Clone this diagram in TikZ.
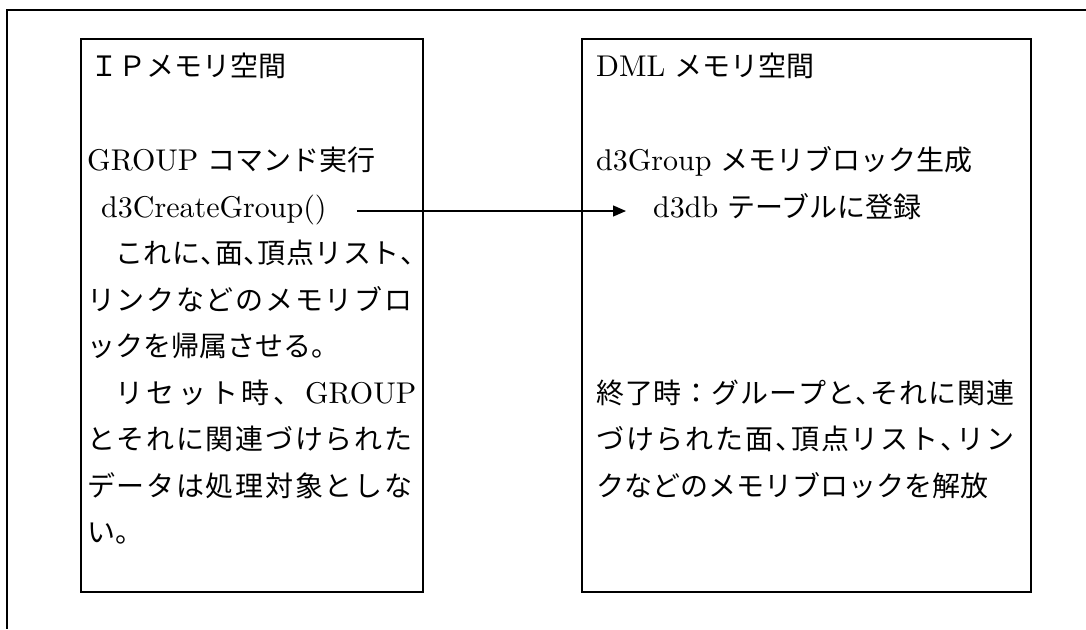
\documentclass[tikz,border=0pt]{standalone}
\usepackage{fontspec}
\newfontfamily\jp{Noto Sans CJK JP}
\newfontfamily\lmten{lmroman10-regular}[Extension=.otf]
\usetikzlibrary{arrows.meta,calc}
\makeatletter
\def\jsp@end{\jsp@end@marker}
\newcommand\jl[2]{\makebox[#1][s]{\jsp@a#2\jsp@end}}
\def\jsp@a#1{#1\jsp@b}
\def\jsp@b#1{\ifx\jsp@end#1\else\hfil#1\expandafter\jsp@b\fi}
\makeatother
\newcommand\hc[1]{\makebox[0.5em][l]{#1}}
\newcommand\La[1]{{\lmten\fontsize{30}{36}\selectfont #1}}
\tikzset{
  txt/.style={anchor=base west, inner sep=0pt, font=\jp\fontsize{28}{34}\selectfont},
  box/.style={draw, line width=1.8pt, anchor=north west, inner sep=0pt},
  frame/.style={line width=1.8pt},
  arr/.style={line width=1.3pt, -{Triangle[length=13pt,width=11pt]}}
}
\begin{document}
\begin{tikzpicture}[x=1pt,y=-1pt]
\useasboundingbox (0,0) rectangle (1086,629);
\draw[frame] (1086,10) -- (7,10) -- (7,629);
\node[box, minimum width=342pt, minimum height=553pt] (ipbox) at (80,38) {};
\node[box, minimum width=449pt, minimum height=553pt] (dmbox) at (581,38) {};
% left box
\node[txt] (ipt) at (90,76.5) {ＩＰメモリ空間};
\node[txt] (grp) at (87,170.5) {\La{GROUP}\hspace{9pt}コマンド実行};
\node[txt] (cg) at (101,217) {\La{d3CreateGroup()}};
\node[txt] (l5) at (115,263.5) {\jl{299pt}{これに{\hc{、}}面{\hc{、}}頂点リスト{\hc{、}}}};
\node[txt] (l6) at (87,310) {\jl{325pt}{リンクなどのメモリブロ}};
\node[txt] (l7) at (87,356.5) {ックを帰属させる。};
\node[txt] (l8) at (115,403) {\jl{301pt}{リセット時、{\La{GROUP}}}};
\node[txt] (l9) at (87,449.5) {\jl{325pt}{とそれに関連づけられた}};
\node[txt] (l10) at (87,496) {\jl{325pt}{データは処理対象としな}};
\node[txt] (l11) at (87,542.5) {い。};
% right box
\node[txt] (dmt) at (596,76.5) {\La{DML}\hspace{9pt}メモリ空間};
\node[txt] (dg) at (596,170.5) {\La{d3Group}\hspace{9pt}メモリブロック生成};
\node[txt] (db) at (653,217) {\La{d3db}\hspace{9pt}テーブルに登録};
\node[txt] (r8) at (596,403) {\jl{418pt}{終了時：グループと{\hc{、}}それに関連}};
\node[txt] (r9) at (596,449.5) {\jl{418pt}{づけられた面{\hc{、}}頂点リスト{\hc{、}}リン}};
\node[txt] (r10) at (596,496) {クなどのメモリブロックを解放};
% arrow
\coordinate (as) at ($(cg.base east)+(30,-6)$);
\coordinate (ae) at ($(db.base west)+(-27,-6)$);
\draw[arr] (as) -- (ae);
\end{tikzpicture}
\end{document}
